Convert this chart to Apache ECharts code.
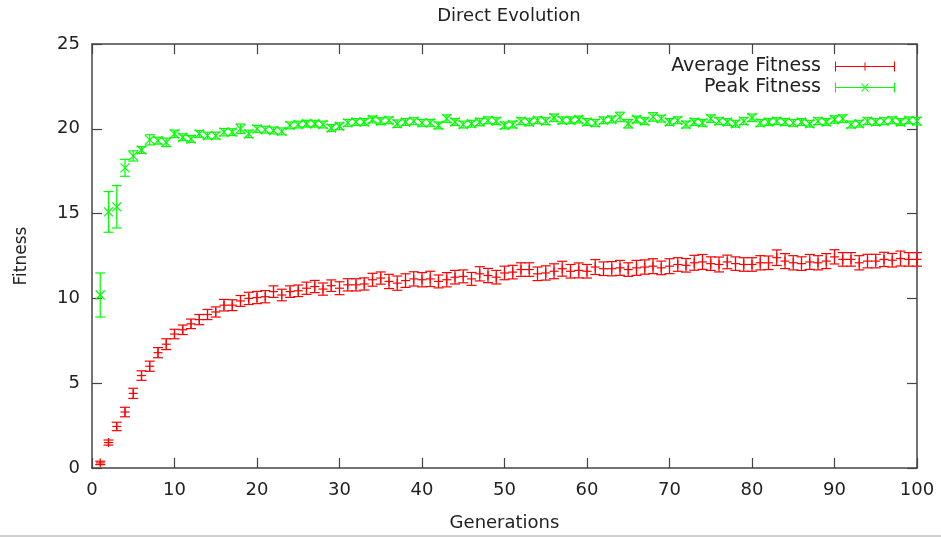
<!DOCTYPE html>
<html>
<head>
<meta charset="utf-8">
<script src="https://cdn.jsdelivr.net/npm/echarts@6/dist/echarts.min.js"></script>
<style>html,body{margin:0;padding:0;background:#fff}#c{width:941px;height:537px}</style>
</head>
<body>
<div id="c"></div>
<script>
var generations = [1,2,3,4,5,6,7,8,9,10,11,12,13,14,15,16,17,18,19,20,21,22,23,24,25,26,27,28,29,30,31,32,33,34,35,36,37,38,39,40,41,42,43,44,45,46,47,48,49,50,51,52,53,54,55,56,57,58,59,60,61,62,63,64,65,66,67,68,69,70,71,72,73,74,75,76,77,78,79,80,81,82,83,84,85,86,87,88,89,90,91,92,93,94,95,96,97,98,99,100];

var avgFitness = [0.3,1.5,2.45,3.3,4.4,5.45,6.0,6.8,7.3,7.9,8.15,8.5,8.75,9.05,9.2,9.6,9.6,9.85,10.0,10.05,10.1,10.4,10.2,10.4,10.45,10.6,10.7,10.55,10.75,10.6,10.8,10.8,10.85,11.1,11.2,11.0,10.9,11.05,11.15,11.1,11.15,11.0,11.1,11.25,11.3,11.15,11.45,11.35,11.25,11.5,11.55,11.7,11.7,11.45,11.5,11.6,11.75,11.6,11.65,11.6,11.85,11.75,11.75,11.8,11.7,11.8,11.85,11.9,11.8,11.9,12.0,11.95,12.1,12.15,12.05,12.0,12.15,12.05,12.0,12.0,12.1,12.1,12.4,12.2,12.1,12.05,12.15,12.1,12.2,12.45,12.3,12.3,12.1,12.2,12.2,12.3,12.25,12.35,12.3,12.3];

var avgErr = [0.1,0.15,0.25,0.28,0.3,0.28,0.3,0.3,0.32,0.28,0.28,0.28,0.3,0.3,0.3,0.34,0.32,0.32,0.36,0.36,0.36,0.34,0.34,0.34,0.34,0.36,0.36,0.36,0.34,0.38,0.36,0.36,0.36,0.38,0.36,0.42,0.42,0.4,0.42,0.42,0.45,0.38,0.42,0.4,0.38,0.38,0.42,0.42,0.4,0.4,0.4,0.4,0.4,0.4,0.42,0.44,0.44,0.4,0.44,0.4,0.44,0.4,0.42,0.44,0.4,0.44,0.42,0.44,0.4,0.44,0.4,0.4,0.44,0.44,0.4,0.44,0.4,0.4,0.4,0.4,0.42,0.4,0.46,0.44,0.42,0.4,0.44,0.42,0.44,0.42,0.4,0.4,0.42,0.4,0.4,0.42,0.4,0.44,0.4,0.4];

var peakFitness = [10.2,15.1,15.4,17.7,18.4,18.75,19.35,19.3,19.2,19.7,19.5,19.4,19.7,19.6,19.6,19.8,19.8,20.0,19.7,20.0,19.95,19.9,19.85,20.2,20.25,20.3,20.3,20.25,20.05,20.15,20.35,20.4,20.4,20.55,20.45,20.5,20.3,20.4,20.45,20.35,20.35,20.2,20.6,20.4,20.25,20.3,20.4,20.5,20.45,20.2,20.25,20.45,20.4,20.5,20.45,20.65,20.5,20.5,20.55,20.4,20.35,20.5,20.55,20.7,20.3,20.55,20.45,20.7,20.6,20.4,20.5,20.25,20.4,20.35,20.6,20.45,20.4,20.3,20.45,20.65,20.35,20.4,20.45,20.4,20.35,20.4,20.3,20.45,20.4,20.55,20.6,20.25,20.3,20.45,20.4,20.45,20.5,20.4,20.5,20.45];

var peakErr = [1.3,1.2,1.25,0.5,0.3,0.2,0.3,0.2,0.25,0.22,0.2,0.2,0.2,0.2,0.2,0.22,0.2,0.28,0.22,0.2,0.2,0.2,0.2,0.2,0.2,0.2,0.2,0.2,0.2,0.2,0.2,0.2,0.2,0.2,0.2,0.2,0.22,0.2,0.2,0.2,0.2,0.2,0.22,0.2,0.2,0.2,0.22,0.2,0.2,0.2,0.2,0.2,0.22,0.2,0.2,0.22,0.2,0.2,0.2,0.2,0.2,0.2,0.2,0.28,0.25,0.2,0.2,0.25,0.2,0.2,0.2,0.2,0.2,0.2,0.22,0.2,0.2,0.2,0.2,0.22,0.2,0.2,0.2,0.2,0.2,0.2,0.2,0.2,0.2,0.22,0.22,0.2,0.2,0.2,0.2,0.2,0.2,0.2,0.2,0.22];

var xTicks = [0,10,20,30,40,50,60,70,80,90,100];
var yTicks = [0,5,10,15,20,25];

function build(xs, ys, es) {
  var out = [];
  for (var i = 0; i < xs.length; i++) out.push([xs[i], ys[i], es[i]]);
  return out;
}

function makeRender(kind) {
  return function (params, api) {
    var x = api.value(0), y = api.value(1), e = api.value(2);
    var p = api.coord([x, y]);
    var lo = api.coord([x, y - e]);
    var hi = api.coord([x, y + e]);
    var c = api.visual('color');
    var cw = 5, m = 4.5;
    var st = {stroke: c, lineWidth: 1.2, fill: null};
    var ch = [
      {type: 'line', shape: {x1: p[0], y1: lo[1], x2: p[0], y2: hi[1]}, style: st},
      {type: 'line', shape: {x1: p[0] - cw, y1: lo[1], x2: p[0] + cw, y2: lo[1]}, style: st},
      {type: 'line', shape: {x1: p[0] - cw, y1: hi[1], x2: p[0] + cw, y2: hi[1]}, style: st}
    ];
    if (kind === 'plus') {
      ch.push({type: 'line', shape: {x1: p[0] - m, y1: p[1], x2: p[0] + m, y2: p[1]}, style: st});
      ch.push({type: 'line', shape: {x1: p[0], y1: p[1] - m, x2: p[0], y2: p[1] + m}, style: st});
    } else {
      ch.push({type: 'line', shape: {x1: p[0] - m, y1: p[1] - m, x2: p[0] + m, y2: p[1] + m}, style: st});
      ch.push({type: 'line', shape: {x1: p[0] - m, y1: p[1] + m, x2: p[0] + m, y2: p[1] - m}, style: st});
    }
    return {type: 'group', children: ch};
  };
}

var FONT = 'DejaVu Sans';
var TXT = '#222';
var AX = '#444';

var iconAvg = 'path://M0,0h1v10h-1z M59,0h1v10h-1z M0,4.5h60v1h-60z M29.5,1h1v8h-1z';
var iconPeak = 'path://M0,0h1v10h-1z M59,0h1v10h-1z M0,4.5h60v1h-60z M26,1L27.3,1L34,9L32.7,9Z M34,1L32.7,1L26,9L27.3,9Z';

function axisCommon() {
  return {
    axisLine: {show: true, onZero: false, lineStyle: {color: AX, width: 1.5}},
    axisTick: {show: true, inside: true, length: 10, lineStyle: {color: AX, width: 1.2}},
    splitLine: {show: false}
  };
}

var chart = echarts.init(document.getElementById('c'), null, {renderer: 'canvas'});
chart.setOption({
  animation: false,
  backgroundColor: '#fff',
  title: {
    text: 'Direct Evolution', left: 504, top: 2, textAlign: 'center',
    textStyle: {fontFamily: FONT, fontSize: 18, fontWeight: 'normal', color: TXT}
  },
  legend: {
    orient: 'vertical', right: 41, top: 52, align: 'right',
    itemWidth: 60, itemHeight: 10, itemGap: 2, selectedMode: false,
    textStyle: {fontFamily: FONT, fontSize: 19, color: TXT, padding: [0, 9, 0, 0]},
    data: [{name: 'Average Fitness', icon: iconAvg}, {name: 'Peak Fitness', icon: iconPeak}]
  },
  graphic: [{type: 'rect', left: 0, bottom: 0, shape: {width: 941, height: 2}, style: {fill: '#cfcfcf'}}],
  grid: {left: 92, right: 24, top: 44, bottom: 67},
  xAxis: [Object.assign(axisCommon(), {
    type: 'value', position: 'bottom', min: xTicks[0], max: xTicks[xTicks.length - 1], interval: 10,
    name: 'Generations', nameLocation: 'middle', nameGap: 46,
    nameTextStyle: {fontFamily: FONT, fontSize: 18, color: TXT},
    axisLabel: {fontFamily: FONT, fontSize: 18, color: TXT, margin: 13}
  }), Object.assign(axisCommon(), {
    type: 'value', position: 'top', min: xTicks[0], max: xTicks[xTicks.length - 1], interval: 10,
    axisLabel: {show: false}
  })],
  yAxis: [Object.assign(axisCommon(), {
    type: 'value', position: 'left', min: yTicks[0], max: yTicks[yTicks.length - 1], interval: 5,
    name: 'Fitness', nameLocation: 'middle', nameGap: 62, nameRotate: 90,
    nameTextStyle: {fontFamily: FONT, fontSize: 17, color: TXT},
    axisLabel: {fontFamily: FONT, fontSize: 18, color: TXT, margin: 12}
  }), Object.assign(axisCommon(), {
    type: 'value', position: 'right', min: yTicks[0], max: yTicks[yTicks.length - 1], interval: 5,
    axisLabel: {show: false}
  })],
  series: [{
    name: 'Average Fitness', type: 'custom', xAxisIndex: 0, yAxisIndex: 0,
    itemStyle: {color: '#ff0000'},
    renderItem: makeRender('plus'),
    encode: {x: 0, y: [1]},
    data: build(generations, avgFitness, avgErr), clip: false
  }, {
    name: 'Peak Fitness', type: 'custom', xAxisIndex: 0, yAxisIndex: 0,
    itemStyle: {color: '#00ff00'},
    renderItem: makeRender('x'),
    encode: {x: 0, y: [1]},
    data: build(generations, peakFitness, peakErr), clip: false
  }]
});
</script>
</body>
</html>
